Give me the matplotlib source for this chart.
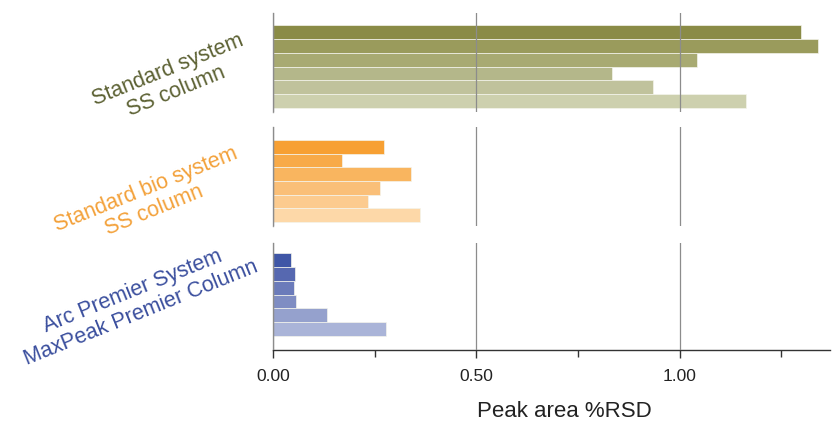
import matplotlib
matplotlib.use("Agg")
import matplotlib.pyplot as plt
from matplotlib.ticker import MultipleLocator

plt.rcParams['font.family'] = ['Liberation Sans', 'DejaVu Sans']

groups = ["Standard system\nSS column",
          "Standard bio system\nSS column",
          "Arc Premier System\nMaxPeak Premier Column"]
values_standard = [1.298, 1.341, 1.043, 0.834, 0.934, 1.164]
values_bio = [0.274, 0.169, 0.340, 0.264, 0.233, 0.361]
values_arc = [0.044, 0.053, 0.051, 0.056, 0.132, 0.277]
xticks = [0.0, 0.5, 1.0]
xticklabels = ["0.00", "0.50", "1.00"]
xlabel = "Peak area %RSD"

colors_standard = ["#8a8b46", "#9a9b5c", "#a8aa72", "#b4b78a", "#c0c29c", "#cdd0ae"]
colors_bio = ["#f7a033", "#f8aa48", "#f9b55f", "#fabf78", "#fccb8f", "#fdd8a8"]
colors_arc = ["#3f56a6", "#5668b0", "#6b7bba", "#7f8dc3", "#95a1cd", "#aab4d8"]
label_colors = ["#5c6133", "#f3a13a", "#3b4f9e"]

W, H = 835, 425
fig = plt.figure(figsize=(W / 100, H / 100), dpi=100)

left, right = 273, 830
panels = [(13, 112), (127, 226), (243, 350)]
ylims = [(5.79, -1.37), (5.79, -1.44), (6.5, -1.22)]
all_vals = [values_standard, values_bio, values_arc]
all_cols = [colors_standard, colors_bio, colors_arc]
label_pos = [(172, 81), (150, 200), (137, 302)]

axes = []
for i, ((top, bot), vals, cols) in enumerate(zip(panels, all_vals, all_cols)):
    ax = fig.add_axes([left / W, 1 - bot / H, (right - left) / W, (bot - top) / H])
    ax.barh(range(len(vals)), vals, height=1.0, color=cols,
            edgecolor="#f4f4ec", linewidth=0.5, zorder=2)
    ax.set_xlim(0, 1.37)
    ax.set_ylim(*ylims[i])
    for s in ["top", "right", "bottom"]:
        ax.spines[s].set_visible(False)
    ax.spines["left"].set_color("#9a9a9a")
    ax.spines["left"].set_linewidth(1.0)
    ax.set_yticks([])
    ax.set_xticks(xticks)
    ax.xaxis.grid(True, color="#8c8c8c", linewidth=0.9, zorder=3)
    ax.set_axisbelow(False)
    if i < 2:
        ax.tick_params(axis="x", length=0, labelbottom=False)
    else:
        ax.spines["bottom"].set_visible(True)
        ax.spines["bottom"].set_color("#333333")
        ax.spines["bottom"].set_linewidth(1.0)
        ax.set_xticklabels(xticklabels, fontsize=12.5, color="#222222")
        ax.xaxis.set_minor_locator(MultipleLocator(0.25))
        ax.tick_params(axis="x", which="major", length=6, width=1, color="#333333", pad=8)
        ax.tick_params(axis="x", which="minor", length=5, width=1, color="#333333")
        ax.set_xlabel(xlabel, fontsize=16, color="#222222", labelpad=12, x=0.524)
    axes.append(ax)
    lx, ly = label_pos[i]
    fig.text(lx / W, 1 - ly / H, groups[i], rotation=22, ha="center", va="center",
             multialignment="center", rotation_mode="anchor",
             fontsize=15.5, color=label_colors[i], linespacing=1.15)

fig.savefig("out.png", dpi=100, facecolor="white")
